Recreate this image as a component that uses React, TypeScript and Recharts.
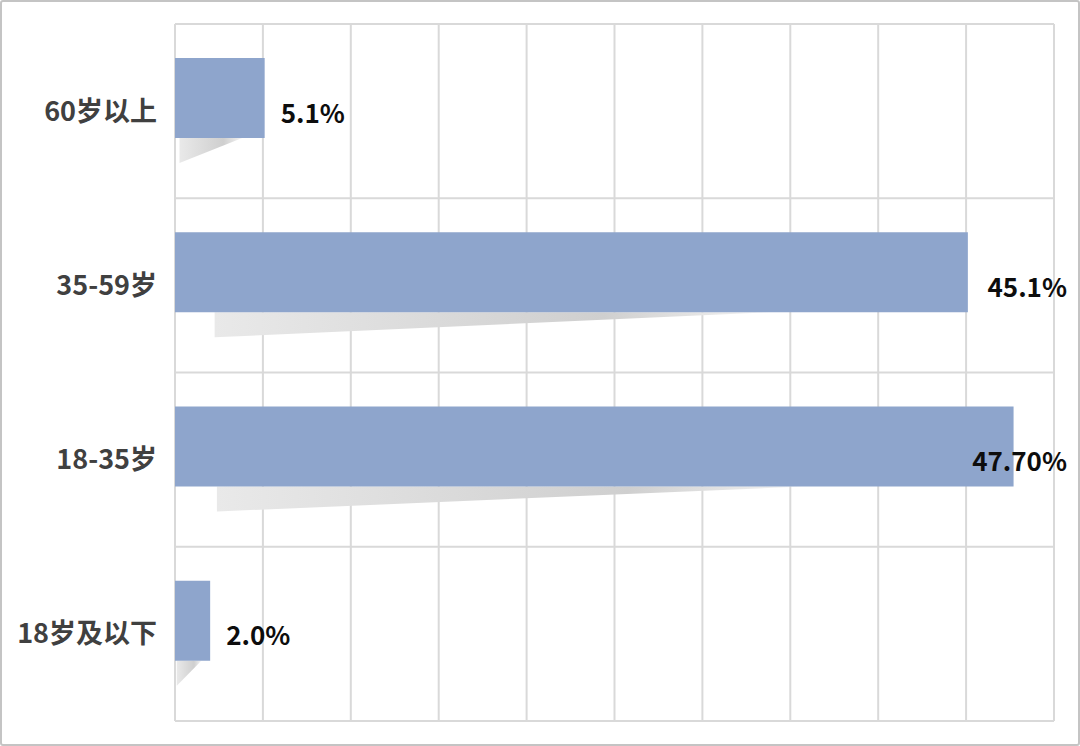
import React from 'react';
import { BarChart, Bar, XAxis, YAxis, CartesianGrid, LabelList } from 'recharts';

document.body.style.margin = '0';

const categories = ['60岁以上', '35-59岁', '18-35岁', '18岁及以下'];
const shares = [5.1, 45.1, 47.7, 2.0];
const shareLabels = ['5.1%', '45.1%', '47.70%', '2.0%'];
const xTicks = [0, 5, 10, 15, 20, 25, 30, 35, 40, 45, 50];

const chartData = categories.map((name, i) => ({ name, share: shares[i], label: shareLabels[i] }));

const W = 1080;
const H = 746;
const margin = { top: 24, right: 26, bottom: 25, left: 0 };
const xMax = 50;
const font = '"Microsoft YaHei", "Noto Sans CJK SC", sans-serif';

// bar drawn a bit above the band centre, with a slanted grey shadow under it
const ShadowBar = (props: any) => {
  const { x, y, width, height } = props;
  const top = y - 13;
  const yb = top + height;
  const sx = x + width * 0.05;
  const ex = x + width * 0.75;
  return (
    <g>
      <polygon points={`${sx},${yb} ${ex},${yb} ${sx},${yb + 25}`} fill="url(#shadowGrad)" />
      <rect x={x} y={top} width={width} height={height} fill="#8EA5CC" />
    </g>
  );
};

const ValueLabel = (props: any) => {
  const { x, y, width, height, value } = props;
  const cy = y + height / 2;
  const long = parseFloat(value) > 40;
  const tx = long ? W - margin.right + 13 : x + width + 16;
  return (
    <text
      x={tx}
      y={cy}
      textAnchor={long ? 'end' : 'start'}
      dominantBaseline="central"
      fontSize={26}
      fontWeight="bold"
      fontFamily={font}
      fill="#0d0d0d"
    >
      {value}
    </text>
  );
};

const App: React.FC = () => {
  return (
    <div style={{ position: 'relative', width: W, height: H, background: '#fff' }}>
      <BarChart width={W} height={H} data={chartData} layout="vertical" margin={margin} barSize={80}>
        <defs>
          <linearGradient id="shadowGrad" x1="0" y1="0" x2="1" y2="0">
            <stop offset="0%" stopColor="#e9e9e9" />
            <stop offset="70%" stopColor="#cfcfcf" />
            <stop offset="100%" stopColor="#f4f4f4" />
          </linearGradient>
        </defs>
        <CartesianGrid
          stroke="#d9d9d9"
          strokeWidth={2}
          verticalCoordinatesGenerator={({ offset }: any) =>
            xTicks.map((t) => offset.left + (t / xMax) * offset.width)
          }
          horizontalCoordinatesGenerator={({ offset }: any) =>
            categories.map((_, i) => offset.top + (i * offset.height) / categories.length).concat(offset.top + offset.height)
          }
        />
        <XAxis type="number" domain={[0, xMax]} ticks={xTicks} tick={false} axisLine={false} tickLine={false} height={0} />
        <YAxis
          type="category"
          dataKey="name"
          width={175}
          axisLine={false}
          tickLine={false}
          tickSize={0}
          tickMargin={18}
          tick={{ fontSize: 27, fontWeight: 'bold', fill: '#404040', fontFamily: font }}
        />
        <Bar dataKey="share" shape={<ShadowBar />} isAnimationActive={false}>
          <LabelList dataKey="label" content={<ValueLabel />} />
        </Bar>
      </BarChart>
      <div
        style={{
          position: 'absolute',
          inset: 0,
          border: '2px solid #c4c4c4',
          borderRadius: 3,
          boxSizing: 'border-box',
          pointerEvents: 'none',
        }}
      />
    </div>
  );
};

export default App;
